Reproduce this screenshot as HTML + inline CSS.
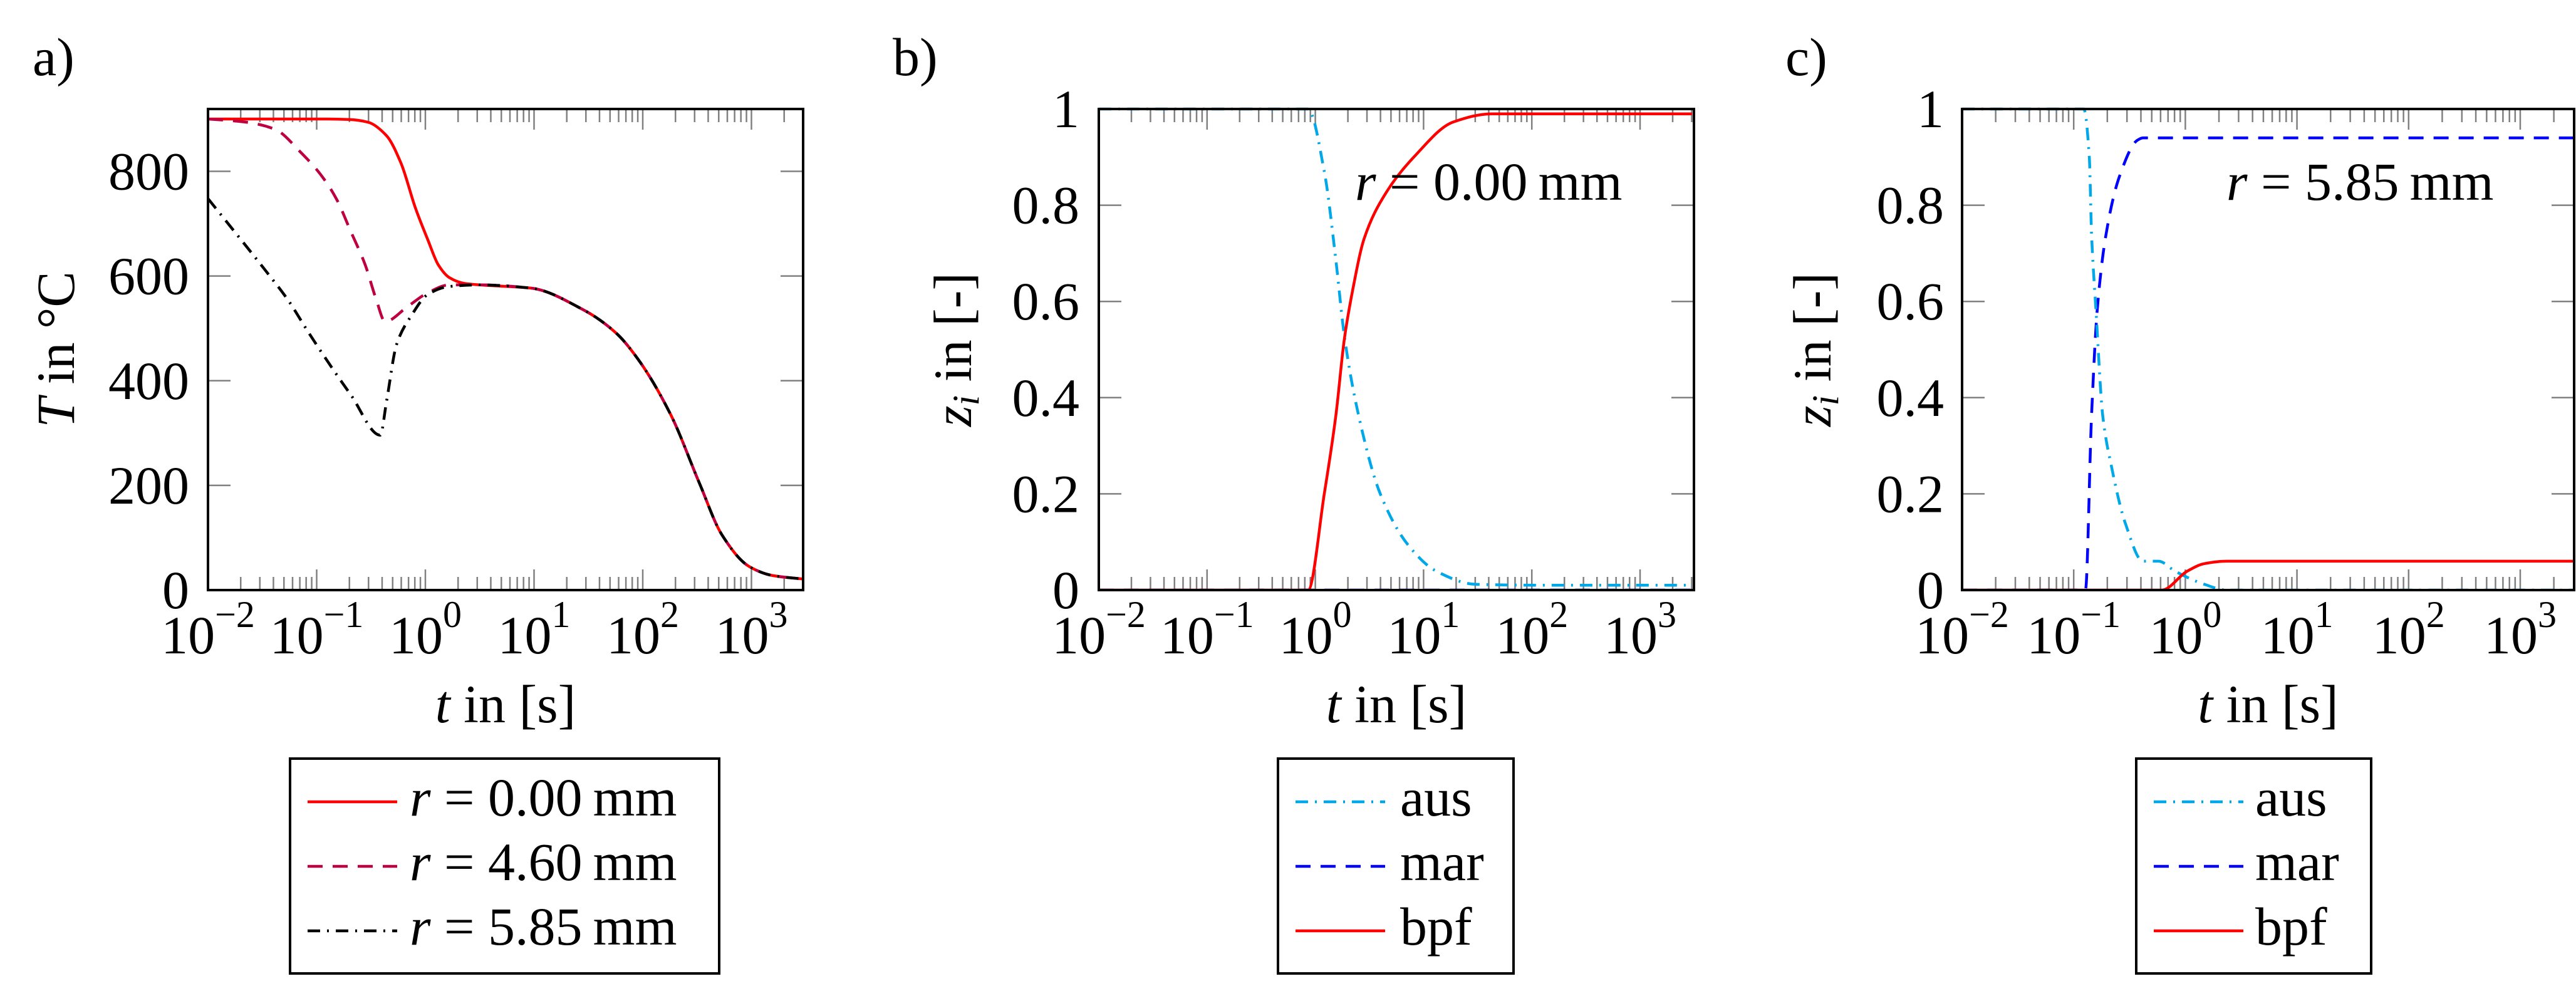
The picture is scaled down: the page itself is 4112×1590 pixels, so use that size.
<!DOCTYPE html>
<html><head><meta charset="utf-8"><style>
html,body{margin:0;padding:0;background:#fff;}
svg{display:block;font-family:"Liberation Serif",serif;}
</style></head><body>
<svg id="fig" width="4112" height="1590" viewBox="0 0 4112 1590" xmlns="http://www.w3.org/2000/svg"></svg>
<script>
// ---- Panel a data (log10 t, T in °C) ----
const aRedLogT = [-2, -0.90, -0.70, -0.53, -0.357, -0.225, -0.09, 0.023, 0.12, 0.22, 0.357, 0.5, 0.97, 1.44, 1.75, 1.95, 2.26, 2.52, 2.73, 2.98, 3.19, 3.48];
const aRedT    = [900, 900, 899, 894, 868, 816, 729, 669, 621, 597, 586, 583, 577, 537, 492, 443, 334, 205, 105, 45, 28, 21];
const aDashLogT = [-2, -1.65, -1.38, -1.15, -0.957, -0.82, -0.686, -0.553, -0.455, -0.37, -0.167, 0.023, 0.22, 0.5, 0.97, 1.44, 1.75, 1.95, 2.26, 2.52, 2.73, 2.98, 3.19, 3.48];
const aDashT    = [900, 894, 880, 837, 792, 748, 685, 621, 557, 513, 541, 568, 583, 583, 577, 537, 492, 443, 334, 205, 105, 45, 28, 21];
const aDotLogT = [-2, -1.71, -1.48, -1.26, -1.09, -0.90, -0.686, -0.415, -0.357, -0.265, -0.127, 0.023, 0.22, 0.5, 0.97, 1.44, 1.75, 1.95, 2.26, 2.52, 2.73, 2.98, 3.19, 3.48];
const aDotT    = [748, 673, 613, 553, 497, 437, 373, 296, 361, 469, 525, 565, 580, 583, 577, 537, 492, 443, 334, 205, 105, 45, 28, 21];
// ---- Panel b data ----
const bAusLogT = [-2, -0.067, 0.083, 0.19, 0.27, 0.40, 0.60, 0.86, 1.12, 1.48, 2.15, 3.48];
const bAusZ    = [1, 1, 0.87, 0.686, 0.525, 0.363, 0.20, 0.093, 0.039, 0.012, 0.01, 0.01];
const bMarLogT = [-2, 3.48];
const bMarZ    = [0, 0];
const bBpfLogT = [-2, -0.067, 0.083, 0.19, 0.27, 0.344, 0.45, 0.656, 0.91, 1.275, 1.63, 3.48];
const bBpfZ    = [0, 0, 0.20, 0.363, 0.525, 0.622, 0.73, 0.827, 0.90, 0.973, 0.99, 0.99];
// ---- Panel c data ----
const cAusLogT = [-2, -0.91, -0.86, -0.84, -0.80, -0.74, -0.66, -0.535, -0.38, -0.24, -0.09, 0.17, 0.37, 3.5];
const cAusZ    = [1, 1, 0.90, 0.74, 0.58, 0.363, 0.255, 0.137, 0.06, 0.06, 0.039, 0.012, 0, 0];
const cMarLogT = [-2, -0.91, -0.895, -0.84, -0.79, -0.71, -0.59, -0.43, -0.38, 3.5];
const cMarZ    = [0, 0, 0, 0.363, 0.58, 0.74, 0.86, 0.935, 0.94, 0.94];
const cBpfLogT = [-2, -0.21, 0.015, 0.17, 0.37, 3.5];
const cBpfZ    = [0, 0, 0.039, 0.055, 0.06, 0.06];
// ---- ticks ----
const aYTicks = [0, 200, 400, 600, 800];
const zTicks = [0, 0.2, 0.4, 0.6, 0.8, 1];
const zTickLabels = ["0", "0.2", "0.4", "0.6", "0.8", "1"];
const xDecades = [-2, -1, 0, 1, 2, 3];

const NS = "http://www.w3.org/2000/svg";
const svg = document.getElementById("fig");
function mk(tag, attrs, parent) {
  const e = document.createElementNS(NS, tag);
  for (const k in attrs) e.setAttribute(k, attrs[k]);
  (parent || svg).appendChild(e);
  return e;
}
const DASH = "24 16", DASHDOT = "20 11 3 11";

// monotone cubic (Fritsch–Carlson) in x
function monoPath(P) {
  const n = P.length;
  const dx = [], s = [];
  for (let i = 0; i < n - 1; i++) { dx[i] = P[i + 1][0] - P[i][0]; s[i] = (P[i + 1][1] - P[i][1]) / dx[i]; }
  const m = new Array(n);
  m[0] = s[0]; m[n - 1] = s[n - 2];
  for (let i = 1; i < n - 1; i++) {
    if (s[i - 1] * s[i] <= 0) m[i] = 0;
    else { const w1 = 2 * dx[i] + dx[i - 1], w2 = dx[i] + 2 * dx[i - 1]; m[i] = (w1 + w2) / (w1 / s[i - 1] + w2 / s[i]); }
  }
  let d = "M" + P[0][0].toFixed(1) + "," + P[0][1].toFixed(1);
  for (let i = 0; i < n - 1; i++) {
    const h = dx[i] / 3;
    d += " C" + (P[i][0] + h).toFixed(1) + "," + (P[i][1] + m[i] * h).toFixed(1) + " " +
      (P[i + 1][0] - h).toFixed(1) + "," + (P[i + 1][1] - m[i + 1] * h).toFixed(1) + " " +
      P[i + 1][0].toFixed(1) + "," + P[i + 1][1].toFixed(1);
  }
  return d;
}

function panel(p) {
  const g = mk("g", {});
  
  
  const xs = v => p.x0 + (v - (-2)) * p.dec;
  const ys = v => p.yb - (v - p.ymin) * p.ky;
  const cid = "clip-" + p.name;
  const cp = mk("clipPath", { id: cid }, g);
  mk("rect", { x: p.x0, y: p.yt - 3, width: p.x1 - p.x0, height: p.yb - p.yt + 3 }, cp);
  const tg = mk("g", { stroke: "#808080", "stroke-width": 2.5 }, g);
  
  
  for (let d = -2; d <= 3; d++) {
    for (let mm = 1; mm <= 9; mm++) {
      const X = xs(d + Math.log10(mm));
      if (X <= p.x0 + 1 || X >= p.x1 - 1) continue;
      const L = mm === 1 ? 33 : 21;
      mk("line", { x1: X, x2: X, y1: p.yb, y2: p.yb - L }, tg);
      mk("line", { x1: X, x2: X, y1: p.yt, y2: p.yt + L }, tg);
    }
  }
  p.yTicks.forEach((v, i) => {
    const Y = ys(v);
    if (Y <= p.yt + 1 || Y >= p.yb - 1) return;
    mk("line", { x1: p.x0, x2: p.x0 + 36, y1: Y, y2: Y }, tg);
    mk("line", { x1: p.x1, x2: p.x1 - 36, y1: Y, y2: Y }, tg);
  });
  p.yTicks.forEach((v, i) => {
    const t = mk("text", { x: p.ylabX, y: ys(v) + 29, "font-size": 86, "text-anchor": "end" }, g);
    
    
    t.textContent = p.yLabels[i];
  });
  xDecades.forEach(d => {
    const t = mk("text", { x: xs(d), y: 1043, "font-size": 86, "text-anchor": "middle" }, g);
    
    
    const a = mk("tspan", {}, t); a.textContent = "10";
    const b = mk("tspan", { dy: -42, "font-size": 60 }, t);
    b.textContent = d < 0 ? "\u2212" + (-d) : String(d);
  });
  p.series.forEach(s => {
    const P = s.lx.map((v, i) => [xs(v), ys(s.vy[i])]);
    const pl = mk("path", { d: monoPath(P), fill: "none", stroke: s.color, "stroke-width": 4.5, "stroke-linejoin": "round", "clip-path": "url(#" + cid + ")" }, g);
    if (s.dash) pl.setAttribute("stroke-dasharray", s.dash);
    
    
  });
  const fr = mk("rect", { x: p.x0, y: p.yt, width: p.x1 - p.x0, height: p.yb - p.yt, fill: "none", stroke: "#000", "stroke-width": 4 }, g);
  
  
  const xl = mk("text", { x: (p.x0 + p.x1) / 2, y: 1153, "font-size": 86, "text-anchor": "middle" }, g);
  
  
  xl.innerHTML = '<tspan font-style="italic">t</tspan> in [s]';
  const yl = mk("text", { x: 0, y: 0, "font-size": 86, "text-anchor": "middle", transform: "translate(" + p.yTitleX + "," + ((p.yt + p.yb) / 2) + ") rotate(-90)" }, g);
  
  
  yl.innerHTML = p.yTitle;
  const pl = mk("text", { x: p.letterX, y: 120, "font-size": 86 }, g);
  
  
  pl.textContent = p.letter;
  if (p.note) {
    const n = mk("text", { x: p.note.x, y: 319, "font-size": 86 }, g);
    
    
    n.innerHTML = '<tspan font-style="italic">r</tspan>\u2005=\u2005' + p.note.t + '\u2009mm';
  }
  const L = p.legend;
  const lg = mk("g", {}, g);
  
  
  mk("rect", { x: L.x, y: 1211, width: L.w, height: 343, fill: "#fff", stroke: "#000", "stroke-width": 4 }, lg);
  const rows = [1280, 1383, 1486];
  L.items.forEach((it, i) => {
    const e = mk("g", {}, lg);
    
    
    const ln = mk("line", { x1: L.x + 28, x2: L.x + 171, y1: rows[i], y2: rows[i], stroke: it.color, "stroke-width": 4.5 }, e);
    if (it.dash) ln.setAttribute("stroke-dasharray", it.dash);
    const t = mk("text", { x: L.x + L.tx, y: rows[i] + 22, "font-size": 86 }, e);
    t.innerHTML = it.label;
  });
}

const legendA = [
  { color: "#ff0000", label: '<tspan font-style="italic">r</tspan>\u2005=\u20050.00\u2009mm' },
  { color: "#bf0040", dash: DASH, label: '<tspan font-style="italic">r</tspan>\u2005=\u20054.60\u2009mm' },
  { color: "#000", dash: DASHDOT, label: '<tspan font-style="italic">r</tspan>\u2005=\u20055.85\u2009mm' }];
const legendZ = [
  { color: "#00a8e8", dash: DASHDOT, label: "aus" },
  { color: "#0000ff", dash: DASH, label: "mar" },
  { color: "#ff0000", label: "bpf" }];

panel({ name: "panel-a-temperature", x0: 332, x1: 1282, dec: 173.5, yt: 174, yb: 942, ymin: 0, ky: 0.8356,
  yTicks: aYTicks, yLabels: aYTicks.map(String), ylabX: 302, yTitleX: 118, letterX: 52, letter: "a)",
  yTitle: '<tspan font-style="italic">T</tspan> in °C',
  series: [
    { name: "line-r-0-00", lx: aRedLogT, vy: aRedT, color: "#ff0000" },
    { name: "line-r-4-60", lx: aDashLogT, vy: aDashT, color: "#bf0040", dash: DASH },
    { name: "line-r-5-85", lx: aDotLogT, vy: aDotT, color: "#000", dash: DASHDOT }],
  legend: { x: 463, w: 685, tx: 191, items: legendA } });

panel({ name: "panel-b-fractions", x0: 1754, x1: 2704, dec: 172.8, yt: 174, yb: 942, ymin: 0, ky: 768,
  yTicks: zTicks, yLabels: zTickLabels, ylabX: 1723, yTitleX: 1550, letterX: 1425, letter: "b)",
  yTitle: '<tspan font-style="italic">z<tspan font-size="60" dy="12">i</tspan></tspan><tspan dy="-12"> in [-]</tspan>',
  note: { x: 2163, t: "0.00" },
  series: [
    { name: "line-mar", lx: bMarLogT, vy: bMarZ, color: "#0000ff", dash: DASH },
    { name: "line-aus", lx: bAusLogT, vy: bAusZ, color: "#00a8e8", dash: DASHDOT },
    { name: "line-bpf", lx: bBpfLogT, vy: bBpfZ, color: "#ff0000" }],
  legend: { x: 2040, w: 376, tx: 195, items: legendZ } });

panel({ name: "panel-c-fractions", x0: 3132, x1: 4109, dec: 178.2, yt: 174, yb: 942, ymin: 0, ky: 768,
  yTicks: zTicks, yLabels: zTickLabels, ylabX: 3103, yTitleX: 2922, letterX: 2850, letter: "c)",
  yTitle: '<tspan font-style="italic">z<tspan font-size="60" dy="12">i</tspan></tspan><tspan dy="-12"> in [-]</tspan>',
  note: { x: 3554, t: "5.85" },
  series: [
    { name: "line-mar", lx: cMarLogT, vy: cMarZ, color: "#0000ff", dash: DASH },
    { name: "line-aus", lx: cAusLogT, vy: cAusZ, color: "#00a8e8", dash: DASHDOT },
    { name: "line-bpf", lx: cBpfLogT, vy: cBpfZ, color: "#ff0000" }],
  legend: { x: 3410, w: 375, tx: 190, items: legendZ } });
</script>
</body></html>
